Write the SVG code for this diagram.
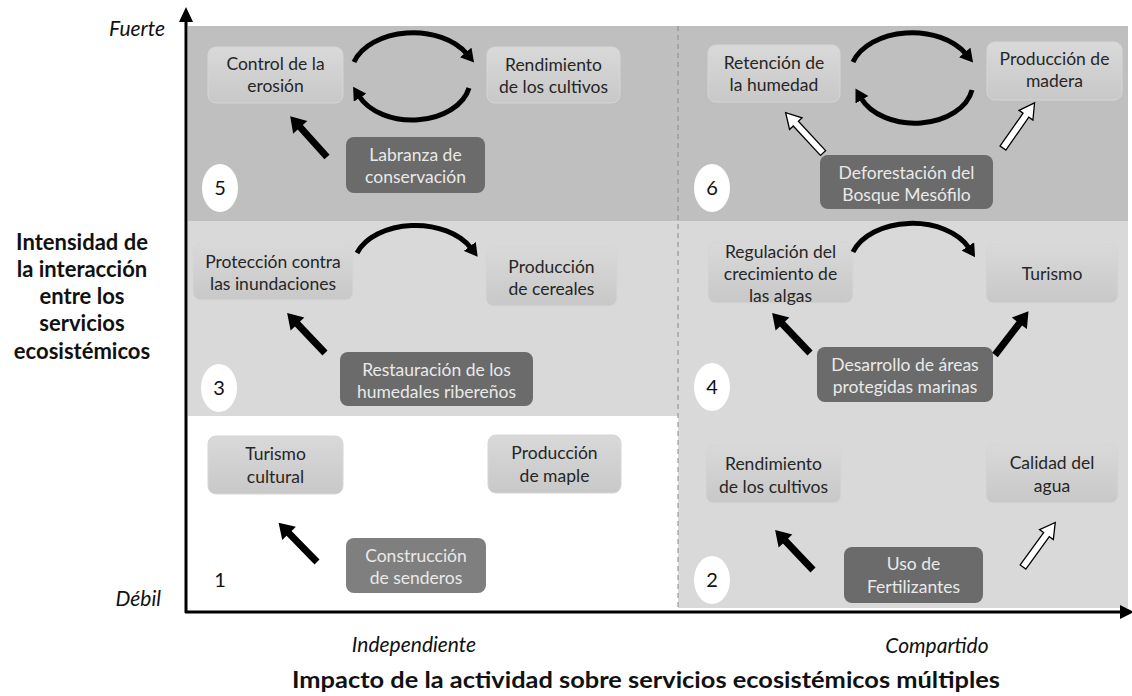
<svg xmlns="http://www.w3.org/2000/svg" xmlns:xlink="http://www.w3.org/1999/xlink" width="1132" height="696" viewBox="0 0 1132 696">
<style>
.t{font-family:Lato,"Open Sans","Liberation Sans",sans-serif;font-size:17.5px;fill:#262626;text-anchor:middle}
.td{font-family:Lato,"Open Sans","Liberation Sans",sans-serif;font-size:17.5px;fill:#e9e9e9;text-anchor:middle}
.num{font-family:Lato,"Open Sans","Liberation Sans",sans-serif;font-size:20px;fill:#111;text-anchor:middle}
.ax{font-family:Lato,"Open Sans","Liberation Sans",sans-serif;font-size:21px;font-style:italic;fill:#111}
.axb{font-family:Lato,"Open Sans","Liberation Sans",sans-serif;font-size:22px;font-weight:bold;fill:#111;text-anchor:middle}
.lb{fill:url(#g);stroke:#d6d6d6;stroke-width:1}
.db{fill:#6b6b6b}
.arc{fill:none;stroke:#000;stroke-width:5;marker-end:url(#ah)}
</style>
<defs>
<linearGradient id="g" x1="0" y1="0" x2="0" y2="1">
<stop offset="0" stop-color="#d9d9d9"/>
<stop offset="1" stop-color="#c8c8c8"/>
</linearGradient>
<marker id="ah" viewBox="0 0 13 15" markerWidth="13" markerHeight="15" refX="2" refY="7.5" orient="auto" markerUnits="userSpaceOnUse">
<path d="M0,0 L13,7.5 L0,15 Z" fill="#000"/>
</marker>
<path id="blk" d="M0,-3.5 L40,-3.5 L40,-9.5 L55,0 L40,9.5 L40,3.5 L0,3.5 Z" fill="#000"/>
<path id="wht" d="M0,-3.5 L40,-3.5 L40,-8.5 L55,0 L40,8.5 L40,3.5 L0,3.5 Z" fill="#fff" stroke="#000" stroke-width="1.3"/>
</defs>

<g id="background">
<rect x="188" y="26" width="940" height="195" fill="#bfbfbf"/>
<rect x="188" y="221" width="940" height="195" fill="#d9d9d9"/>
<rect x="188" y="416" width="490" height="192" fill="#ffffff"/>
<rect x="678" y="416" width="450" height="192" fill="#d9d9d9"/>
<line x1="678" y1="26" x2="678" y2="608" stroke="#8a8a8a" stroke-width="1" stroke-dasharray="5,4"/>
</g>

<g id="axes">
<line x1="186" y1="20" x2="186" y2="613" stroke="#000" stroke-width="3"/>
<path d="M186,7 L193,22 L179,22 Z" fill="#000"/>
<line x1="185" y1="612" x2="1122" y2="612" stroke="#000" stroke-width="3"/>
<path d="M1134,612 L1120,605 L1120,619 Z" fill="#000"/>
<text class="ax" x="165" y="36" text-anchor="end">Fuerte</text>
<text class="ax" x="161" y="606" text-anchor="end">Débil</text>
<text class="ax" x="414" y="652" text-anchor="middle">Independiente</text>
<text class="ax" x="937" y="653" text-anchor="middle">Compartido</text>
<text class="axb" x="82" y="250">Intensidad de</text>
<text class="axb" x="82" y="277">la interacción</text>
<text class="axb" x="82" y="304">entre los</text>
<text class="axb" x="82" y="331">servicios</text>
<text class="axb" x="82" y="359">ecosistémicos</text>
<text class="axb" x="646" y="688" textLength="708" lengthAdjust="spacingAndGlyphs">Impacto de la actividad sobre servicios ecosistémicos múltiples</text>
</g>

<g id="numbers">
<ellipse cx="220" cy="188" rx="18" ry="24" fill="#fff"/><text class="num" x="220" y="195">5</text>
<ellipse cx="712" cy="188" rx="18" ry="24" fill="#fff"/><text class="num" x="712" y="195">6</text>
<ellipse cx="219" cy="388" rx="18" ry="24" fill="#fff"/><text class="num" x="219" y="395">3</text>
<ellipse cx="712" cy="387" rx="18" ry="24" fill="#fff"/><text class="num" x="712" y="394">4</text>
<text class="num" x="220" y="587">1</text>
<ellipse cx="712" cy="580" rx="18" ry="24" fill="#fff"/><text class="num" x="712" y="587">2</text>
</g>

<g id="n-control"><rect class="lb" x="208" y="47" width="135" height="56" rx="8"/><text class="t" x="275.5" y="70">Control de la</text><text class="t" x="275.5" y="92">erosión</text></g>
<g id="n-rendimiento1"><rect class="lb" x="487" y="47" width="133" height="56" rx="8"/><text class="t" x="553.5" y="71">Rendimiento</text><text class="t" x="553.5" y="92.5">de los cultivos</text></g>
<g id="n-labranza"><rect class="db" x="346" y="137" width="139" height="56" rx="8"/><text class="td" x="415.5" y="161">Labranza de</text><text class="td" x="415.5" y="183">conservación</text></g>

<g id="n-retencion"><rect class="lb" x="708" y="45" width="132" height="57" rx="8"/><text class="t" x="774" y="69">Retención de</text><text class="t" x="774" y="90.5">la humedad</text></g>
<g id="n-madera"><rect class="lb" x="987" y="42" width="135" height="58" rx="8"/><text class="t" x="1054.5" y="64.5">Producción de</text><text class="t" x="1054.5" y="87">madera</text></g>
<g id="n-deforestacion"><rect class="db" x="820" y="155" width="173" height="54" rx="8"/><text class="td" x="906.5" y="179">Deforestación del</text><text class="td" x="906.5" y="201">Bosque Mesófilo</text></g>

<g id="n-proteccion"><rect class="lb" x="193" y="243" width="160" height="57" rx="8"/><text class="t" x="273" y="267.5">Protección contra</text><text class="t" x="273" y="289.5">las inundaciones</text></g>
<g id="n-cereales"><rect class="lb" x="486" y="247" width="131" height="59" rx="8"/><text class="t" x="551.5" y="272.5">Producción</text><text class="t" x="551.5" y="294.5">de cereales</text></g>
<g id="n-restauracion"><rect class="db" x="340" y="352" width="193" height="54" rx="8"/><text class="td" x="436.5" y="376">Restauración de los</text><text class="td" x="436.5" y="398">humedales ribereños</text></g>

<g id="n-regulacion"><rect class="lb" x="708" y="242" width="145" height="61" rx="8"/><text class="t" x="780.5" y="258">Regulación del</text><text class="t" x="780.5" y="280">crecimiento de</text><text class="t" x="780.5" y="302">las algas</text></g>
<g id="n-turismo"><rect class="lb" x="986" y="244" width="132" height="59" rx="8"/><text class="t" x="1052" y="280">Turismo</text></g>
<g id="n-desarrollo"><rect class="db" x="817" y="347" width="176" height="55" rx="8"/><text class="td" x="905" y="371">Desarrollo de áreas</text><text class="td" x="905" y="393">protegidas marinas</text></g>

<g id="n-turismo-cultural"><rect class="lb" x="208" y="436" width="135" height="58" rx="8"/><text class="t" x="275.5" y="460">Turismo</text><text class="t" x="275.5" y="482.5">cultural</text></g>
<g id="n-maple"><rect class="lb" x="488" y="435" width="133" height="58" rx="8"/><text class="t" x="554.5" y="459">Producción</text><text class="t" x="554.5" y="482">de maple</text></g>
<g id="n-senderos"><rect x="346" y="538" width="140" height="55" rx="8" fill="#7f7f7f"/><text class="td" x="416" y="562">Construcción</text><text class="td" x="416" y="584">de senderos</text></g>

<g id="n-rendimiento2"><rect class="lb" x="706" y="445" width="135" height="58" rx="8"/><text class="t" x="773.5" y="470">Rendimiento</text><text class="t" x="773.5" y="492.5">de los cultivos</text></g>
<g id="n-calidad"><rect class="lb" x="986" y="444" width="132" height="59" rx="8"/><text class="t" x="1052" y="469">Calidad del</text><text class="t" x="1052" y="491.5">agua</text></g>
<g id="n-fertilizantes"><rect class="db" x="844" y="547" width="139" height="56" rx="8"/><text class="td" x="913.5" y="570">Uso de</text><text class="td" x="913.5" y="593">Fertilizantes</text></g>

<g id="connectors">
<path class="arc" d="M354,62 A62 42 0 0 1 467,54"/>
<path class="arc" d="M469,88 A58 40 0 0 1 359,96"/>
<path class="arc" d="M853,62 A62 42 0 0 1 966,54"/>
<path class="arc" d="M972,90 A58 40 0 0 1 861,98"/>
<path class="arc" d="M357,253 A62 41 0 0 1 471,248"/>
<path class="arc" d="M853,252 A62 41 0 0 1 969,248"/>
<use xlink:href="#blk" transform="translate(327,157) rotate(-132)"/>
<use xlink:href="#blk" transform="translate(325,353) rotate(-133.5)"/>
<use xlink:href="#blk" transform="translate(810,353) rotate(-133.5)"/>
<use xlink:href="#blk" transform="translate(995,355) rotate(-52.5)"/>
<use xlink:href="#blk" transform="translate(317,562) rotate(-134.3)"/>
<use xlink:href="#blk" transform="translate(813,570) rotate(-133.5)"/>
<use xlink:href="#wht" transform="translate(823,153) rotate(-132.8)"/>
<use xlink:href="#wht" transform="translate(1003,148) rotate(-55)"/>
<use xlink:href="#wht" transform="translate(1023,567) rotate(-54.1)"/>
</g>
</svg>
